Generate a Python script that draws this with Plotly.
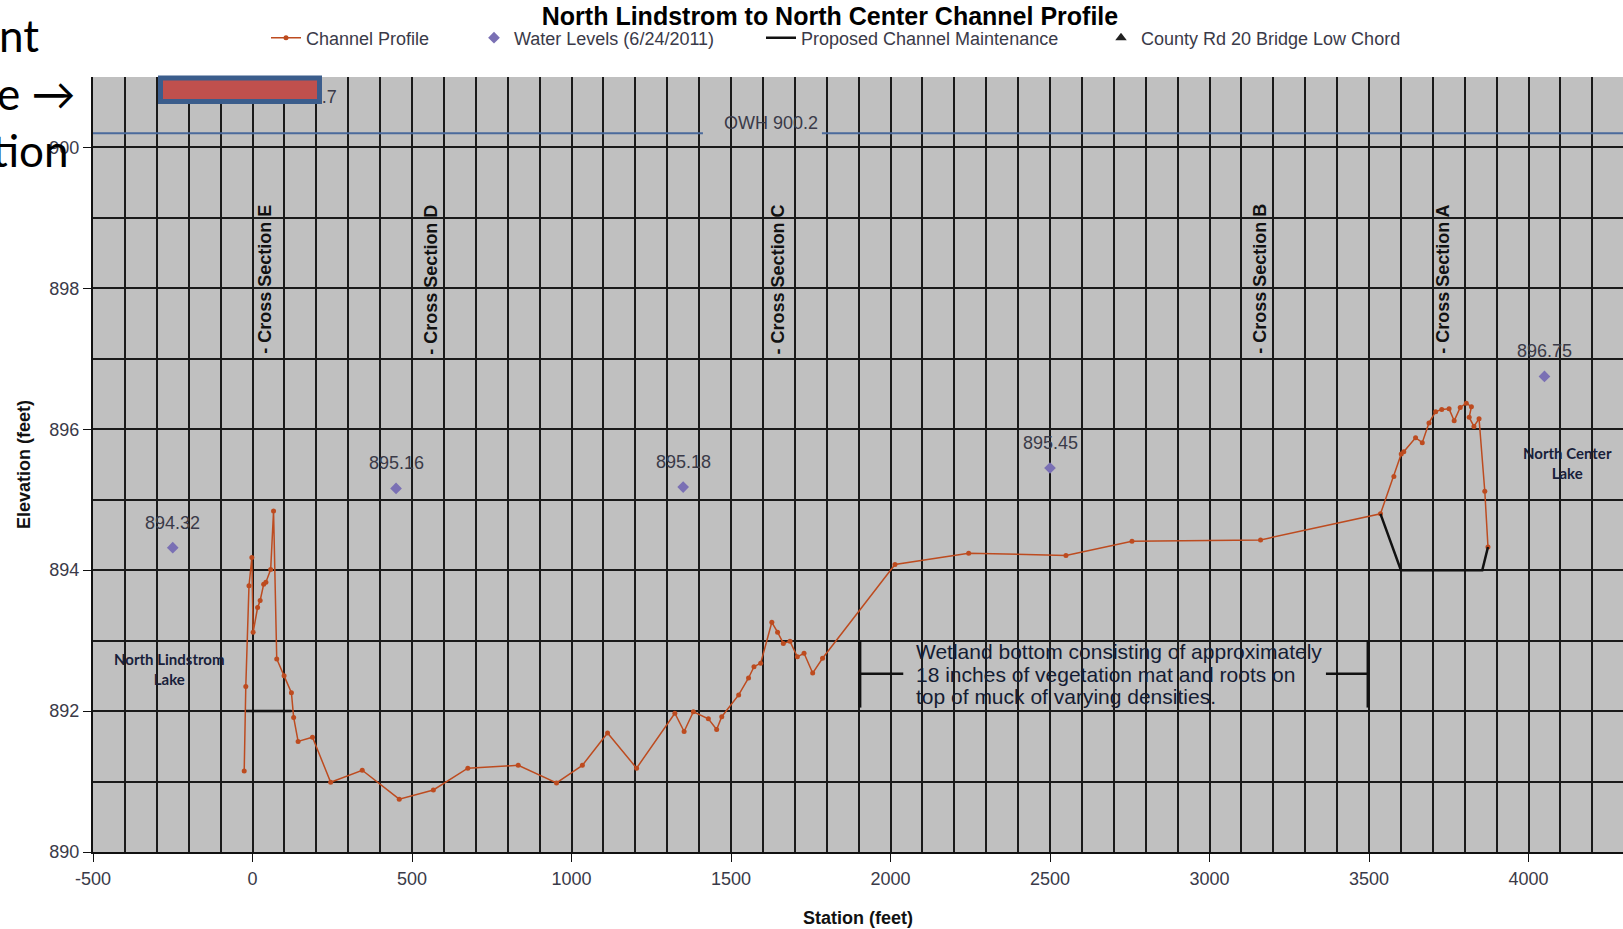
import plotly.graph_objects as go

# ---- survey data -------------------------------------------------------
# Channel profile: station (ft) and bed elevation (ft)
profile_station = [-26, -21, -11, -2, 2, 16, 24, 35, 42, 57, 66, 76, 99, 122, 129,
                   143, 188, 245, 344, 460, 567, 675, 833, 953, 1034, 1113, 1204,
                   1324, 1353, 1382, 1429, 1455, 1471, 1524, 1555, 1572, 1593, 1628,
                   1646, 1664, 1685, 1708, 1729, 1756, 1787, 2014, 2245, 2550, 2757,
                   3160, 3536, 3578, 3601, 3609, 3646, 3667, 3688, 3709, 3728, 3751,
                   3767, 3786, 3805, 3821, 3814, 3829, 3845, 3863, 3873]
profile_elev = [891.15, 892.35, 893.78, 894.18, 893.12, 893.47, 893.57, 893.80,
                893.83, 894.01, 894.84, 892.74, 892.50, 892.26, 891.91, 891.57,
                891.63, 890.99, 891.16, 890.75, 890.88, 891.19, 891.23, 890.98,
                891.23, 891.69, 891.19, 891.97, 891.71, 891.99, 891.89, 891.74,
                891.92, 892.23, 892.47, 892.63, 892.68, 893.26, 893.12, 892.96,
                892.99, 892.77, 892.82, 892.54, 892.75, 894.08, 894.24, 894.21,
                894.41, 894.43, 894.80, 895.33, 895.65, 895.68, 895.88, 895.81,
                896.09, 896.25, 896.28, 896.29, 896.12, 896.31, 896.37, 896.32,
                896.17, 896.04, 896.15, 895.12, 894.33]

# Water levels measured 6/24/2011
water_station = [-250, 450, 1350, 2500, 4050]
water_elev = [894.32, 895.16, 895.18, 895.45, 896.75]

# Proposed channel maintenance grade (two reaches)
maint_station = [-20, 122, None, 3536, 3600, 3855, 3873]
maint_elev = [892.0, 892.0, None, 894.80, 894.0, 894.0, 894.33]

# County Rd 20 bridge low chord
bridge_station = [100]
bridge_elev = [900.7]

# Ordinary high water
owh_level = 900.2
owh_station = [-500, 1412, None, 1785, 4300]

# Cross-section locations
section_names = ["E", "D", "C", "B", "A"]
section_station = [41, 561, 1648, 3160, 3734]

# Axis ticks
x_ticks = [-500, 0, 500, 1000, 1500, 2000, 2500, 3000, 3500, 4000]
x_ticklabels = [str(v) for v in x_ticks]

# ---- page geometry -----------------------------------------------------
W, H = 1623, 929
L, R, T, B = 93, 0, 77, 77
PW, PH = W - L - R, H - T - B


def px(x):
    return (x - L) / PW


def py(y):
    return (H - B - y) / PH


ARIAL = "Liberation Sans, Arial, sans-serif"
CALIBRI = "Lato, Open Sans, sans-serif"
PROFILE_C = "#bd4b1f"
WATER_C = "#7a70b4"
TEXT_C = "#3a3a48"

fig = go.Figure()

fig.add_trace(go.Scatter(
    x=owh_station, y=[owh_level if s is not None else None for s in owh_station],
    mode="lines", line=dict(color="#4a6a9c", width=2),
    showlegend=False, hoverinfo="skip"))

fig.add_trace(go.Scatter(
    x=profile_station, y=profile_elev, name="Channel Profile",
    mode="lines+markers", line=dict(color=PROFILE_C, width=1.5),
    marker=dict(color=PROFILE_C, size=5), legendwidth=163))

fig.add_trace(go.Scatter(
    x=water_station, y=water_elev, name="Water Levels (6/24/2011)",
    mode="markers", marker=dict(symbol="diamond", color=WATER_C, size=9),
    legendwidth=242))

fig.add_trace(go.Scatter(
    x=maint_station, y=maint_elev, name="Proposed Channel Maintenance",
    mode="lines", line=dict(color="#111111", width=2.5), connectgaps=False,
    legendwidth=295))

fig.add_trace(go.Scatter(
    x=bridge_station, y=bridge_elev, name="County Rd 20 Bridge Low Chord",
    mode="markers+text", marker=dict(symbol="triangle-up", color="#222222", size=10),
    text=[f"{v:.1f}" for v in bridge_elev], textposition="middle right",
    textfont=dict(family=ARIAL, size=18, color=TEXT_C)))

annotations = []

# water level labels
for s, e in zip(water_station, water_elev):
    annotations.append(dict(x=s, y=e, text=f"{e:.2f}", showarrow=False, yshift=25,
                            font=dict(family=ARIAL, size=18, color=TEXT_C)))

# OWH label
annotations.append(dict(x=1625, y=owh_level, text=f"OWH {owh_level:.1f}", showarrow=False,
                        yshift=10, font=dict(family=ARIAL, size=18, color=TEXT_C)))

# cross-section labels
for n, s in zip(section_names, section_station):
    annotations.append(dict(x=s, y=898.13, text=f"<b>- Cross Section {n}</b>", showarrow=False,
                            textangle=-90, font=dict(family=ARIAL, size=18, color="#111111")))

# lake labels
annotations.append(dict(x=-260, y=892.6, text="<b>North Lindstrom<br>Lake</b>", showarrow=False,
                        font=dict(family=CALIBRI, size=15, color="#18203a")))
annotations.append(dict(x=4123, y=895.52, text="<b>North Center<br>Lake</b>", showarrow=False,
                        font=dict(family=CALIBRI, size=15, color="#18203a")))

# wetland note
note_lines = ["Wetland bottom consisting of approximately",
              "18 inches of vegetation mat and roots on",
              "top of muck of varying densities."]
for i, line in enumerate(note_lines):
    annotations.append(dict(x=2074, y=892.85 - 0.3235 * i, text=line, showarrow=False,
                            xanchor="left", font=dict(family=ARIAL, size=21, color="#141c33")))

# slide text fragments on the left
for txt, xr, yc in [("nt", 41, 35), ("e \u2192", 78, 93), ("tion", 71, 150)]:
    annotations.append(dict(xref="paper", yref="paper", x=px(xr), y=py(yc), text=txt,
                            showarrow=False, xanchor="right", yanchor="middle",
                            font=dict(family=CALIBRI, size=44, color="#000000")))

shapes = []
# wetland brackets
for xv in (1904, 3497):
    shapes.append(dict(type="line", x0=xv, x1=xv, y0=892.05, y1=893.0,
                       line=dict(color="#111111", width=3)))
shapes.append(dict(type="line", x0=1904, x1=2040, y0=892.53, y1=892.53,
                   line=dict(color="#111111", width=2.5)))
shapes.append(dict(type="line", x0=3365, x1=3497, y0=892.53, y1=892.53,
                   line=dict(color="#111111", width=2.5)))
# redaction box over the bridge label
shapes.append(dict(type="rect", xref="paper", yref="paper", layer="above",
                   x0=px(160.5), x1=px(319.5), y0=py(101.5), y1=py(78),
                   fillcolor="#c0504d", line=dict(color="#3b5d8c", width=5)))

fig.update_layout(
    width=W, height=H,
    margin=dict(l=L, r=R, t=T, b=B),
    paper_bgcolor="white", plot_bgcolor="#c0c0c0",
    title=dict(text="<b>North Lindstrom to North Center Channel Profile</b>",
               xref="container", x=830 / W, xanchor="center",
               yref="container", y=1 - 16.5 / H, yanchor="middle",
               font=dict(family=ARIAL, size=25, color="#000000")),
    legend=dict(orientation="h", x=px(266), xanchor="left",
                yref="container", y=1 - 38 / H, yanchor="middle",
                font=dict(family=ARIAL, size=18, color=TEXT_C),
                bgcolor="rgba(0,0,0,0)", itemclick=False),
    annotations=annotations, shapes=shapes,
    xaxis=dict(range=[-500, -500 + PW / 0.319],
               tickmode="array", tickvals=x_ticks, ticktext=x_ticklabels,
               showgrid=True, gridcolor="#1a1a1a", gridwidth=2,
               minor=dict(tick0=-500, dtick=100, showgrid=True, gridcolor="#1a1a1a", gridwidth=2),
               ticks="outside", ticklen=8, tickcolor="#111111",
               showline=True, linecolor="#111111", linewidth=2, zeroline=False,
               tickfont=dict(family=ARIAL, size=18, color=TEXT_C), ticklabelstandoff=1,
               title=dict(text="<b>Station (feet)</b>", standoff=24,
                          font=dict(family=ARIAL, size=18, color="#111111"))),
    yaxis=dict(range=[890, 901], tick0=890, dtick=2,
               showgrid=True, gridcolor="#1a1a1a", gridwidth=2,
               minor=dict(dtick=1, showgrid=True, gridcolor="#1a1a1a", gridwidth=2),
               ticks="outside", ticklen=8, tickcolor="#111111",
               showline=True, linecolor="#111111", linewidth=2, zeroline=False,
               tickfont=dict(family=ARIAL, size=18, color=TEXT_C), ticklabelstandoff=0,
               title=dict(text="<b>Elevation (feet)</b>", standoff=14,
                          font=dict(family=ARIAL, size=18, color="#111111"))),
)

fig.write_html("out.html")
